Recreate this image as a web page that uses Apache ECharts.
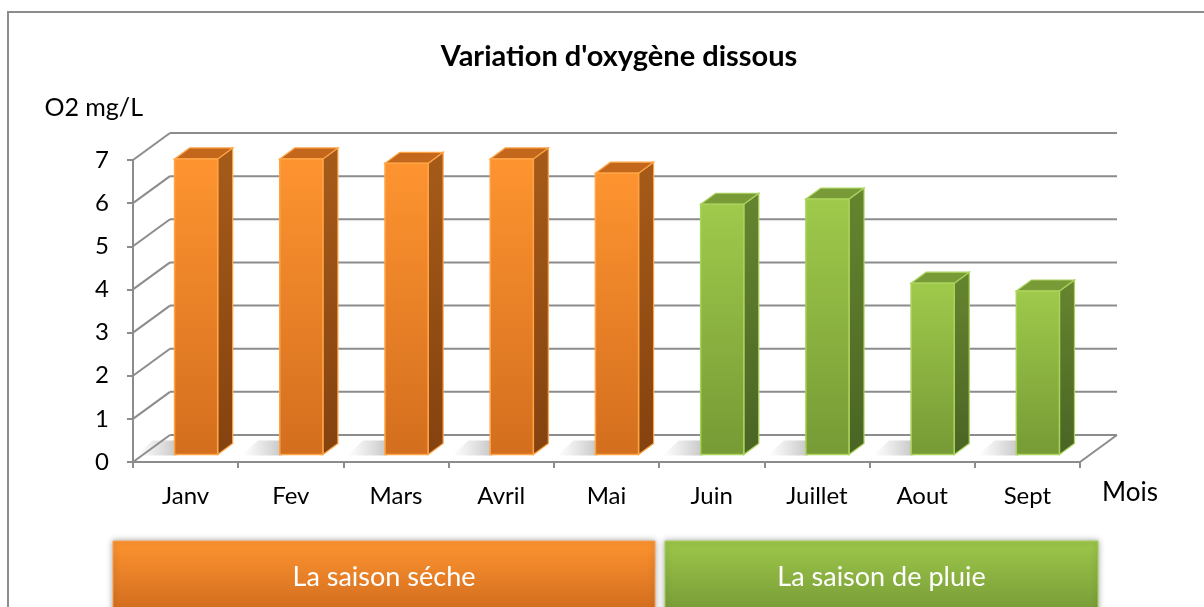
<!DOCTYPE html>
<html>
<head>
<meta charset="utf-8">
<script src="https://cdn.jsdelivr.net/npm/echarts@6/dist/echarts.min.js"></script>
<style>
    html, body { margin: 0; padding: 0; background: #fff; }
    #chart { width: 1204px; height: 607px; }
</style>
</head>
<body>
<div id="chart"></div>
<script>
var months = ['Janv', 'Fev', 'Mars', 'Avril', 'Mai', 'Juin', 'Juillet', 'Aout', 'Sept'];
var oxygen = [6.85, 6.85, 6.75, 6.85, 6.52, 5.8, 5.92, 3.97, 3.79];
var seasonOf = ['seche', 'seche', 'seche', 'seche', 'seche', 'pluie', 'pluie', 'pluie', 'pluie'];
var yTicks = [0, 1, 2, 3, 4, 5, 6, 7];
var seasonNames = ['La saison séche', 'La saison de pluie'];

var FONT = 'Lato';
// profondeur du "3D" (pixels)
var DX = 37, DY = -27;
var FX = 10.5, FY = -7.5;   // face avant des barres
var BX = 15, BY = -11;      // epaisseur des barres

var colors = {
    seche: {
        front: ['#FE9430', '#D36E1E'],
        side: ['#A65B19', '#84420F'],
        top: '#C3671C',
        edge: '#FFA445'
    },
    pluie: {
        front: ['#9FCA4B', '#769A35'],
        side: ['#66852F', '#4A6424'],
        top: '#789B38',
        edge: '#AAD35C'
    }
};

var chart = echarts.init(document.getElementById('chart'));

function grad(c0, c1) {
    return new echarts.graphic.LinearGradient(0, 0, 0, 1, [
        { offset: 0, color: c0 },
        { offset: 1, color: c1 }
    ]);
}

function renderWall(params, api) {
    var v = api.value(1);
    var cs = params.coordSys;
    var y = api.coord([0, v])[1];
    var lineStyle = { stroke: '#8C8C8C', lineWidth: 2 };
    var children = [
        { type: 'line', shape: { x1: cs.x, y1: y, x2: cs.x + DX, y2: y + DY }, style: lineStyle },
        { type: 'line', shape: { x1: cs.x + DX, y1: y + DY, x2: cs.x + cs.width + DX, y2: y + DY }, style: lineStyle }
    ];
    if (v === 0) {
        children.push({ type: 'line', shape: { x1: cs.x + cs.width, y1: y, x2: cs.x + cs.width + DX, y2: y + DY }, style: lineStyle });
    }
    return { type: 'group', children: children };
}

function renderBar(params, api) {
    var i = api.value(0);
    var v = api.value(1);
    var base = api.coord([i, 0]);
    var top = api.coord([i, v]);
    var w = api.size([1, 0])[0] * 0.41;
    var x0 = base[0] - w / 2 + FX, x1 = x0 + w;
    var yb = base[1] + FY, yt = top[1] + FY;
    var c = colors[seasonOf[i]];
    return {
        type: 'group',
        children: [
            {   // ombre au sol
                type: 'polygon',
                shape: { points: [[x0 - 22, yb + BY - 3], [x0 + BX, yb + BY - 3], [x0 + 2, yb + 1], [x0 - 38, yb + 1]] },
                style: {
                    fill: new echarts.graphic.LinearGradient(0, 0, 1, 0, [
                        { offset: 0, color: 'rgba(160,160,160,0)' },
                        { offset: 1, color: 'rgba(120,120,120,0.6)' }
                    ])
                }
            },
            {
                type: 'polygon',
                shape: { points: [[x1, yt], [x1 + BX, yt + BY], [x1 + BX, yb + BY], [x1, yb]] },
                style: { fill: grad(c.side[0], c.side[1]), stroke: c.edge, lineWidth: 1.2 }
            },
            {
                type: 'polygon',
                shape: { points: [[x0, yt], [x0 + BX, yt + BY], [x1 + BX, yt + BY], [x1, yt]] },
                style: { fill: c.top, stroke: c.edge, lineWidth: 1.2 }
            },
            {
                type: 'rect',
                shape: { x: x0, y: yt, width: w, height: yb - yt },
                style: { fill: grad(c.front[0], c.front[1]), stroke: c.edge, lineWidth: 1.5 }
            }
        ]
    };
}

var wallData = yTicks.map(function (v) { return [0, v]; });
var barData = oxygen.map(function (v, i) { return [i, v]; });

function seasonBox(x, w, name, c0, c1, edge) {
    return {
        type: 'rect',
        shape: { x: x, y: 541, width: w, height: 72 },
        style: {
            fill: grad(c0, c1),
            stroke: edge,
            lineWidth: 1,
            shadowBlur: 6,
            shadowColor: 'rgba(0,0,0,0.35)'
        },
        textContent: {
            style: { text: name, fill: '#fff', font: '27px ' + FONT }
        },
        textConfig: { position: 'inside' }
    };
}

var option = {
    animation: false,
    backgroundColor: '#fff',
    title: {
        text: "Variation d'oxygène dissous",
        left: 614,
        top: 37,
        textAlign: 'center',
        textStyle: { fontFamily: FONT, fontSize: 29, fontWeight: 'bold', color: '#000' }
    },
    grid: { left: 133, top: 160, width: 947, height: 302 },
    xAxis: {
        type: 'category',
        data: months,
        boundaryGap: true,
        name: 'Mois',
        nameLocation: 'end',
        nameGap: 22,
        nameTextStyle: { fontFamily: FONT, fontSize: 26, color: '#000', verticalAlign: 'top', padding: [18, 0, 0, 0] },
        axisLine: { lineStyle: { color: '#8C8C8C', width: 2 } },
        axisTick: { show: true, length: 6, interval: 0, lineStyle: { color: '#8C8C8C', width: 2 } },
        axisLabel: { interval: 0, margin: 22, fontFamily: FONT, fontSize: 24, color: '#000' },
        splitLine: { show: false }
    },
    yAxis: {
        type: 'value',
        min: 0,
        max: 7,
        interval: 1,
        name: 'O2 mg/L',
        nameLocation: 'end',
        nameGap: 40,
        nameTextStyle: { fontFamily: FONT, fontSize: 25, color: '#000', align: 'right', padding: [0, -10, 0, 0] },
        axisLine: { show: true, lineStyle: { color: '#8C8C8C', width: 2 } },
        axisTick: { show: true, length: 6, lineStyle: { color: '#8C8C8C', width: 2 } },
        axisLabel: { margin: 24, fontFamily: FONT, fontSize: 24, color: '#000' },
        splitLine: { show: false }
    },
    series: [
        {
            type: 'custom',
            name: 'murs',
            renderItem: renderWall,
            data: wallData,
            encode: { x: 0, y: 1 },
            silent: true,
            z: 1
        },
        {
            type: 'custom',
            name: 'Oxygène dissous',
            renderItem: renderBar,
            data: barData,
            encode: { x: 0, y: 1 },
            z: 3
        }
    ],
    graphic: [
        {
            type: 'rect',
            shape: { x: 8, y: 12, width: 1220, height: 640 },
            style: { fill: 'none', stroke: '#8C8C8C', lineWidth: 2 },
            silent: true
        },
        seasonBox(113, 542, seasonNames[0], '#FE9430', '#D06B1E', '#F6A055'),
        seasonBox(665, 433, seasonNames[1], '#9DC74A', '#779B37', '#A8CF5E')
    ]
};

chart.setOption(option);
</script>
</body>
</html>
